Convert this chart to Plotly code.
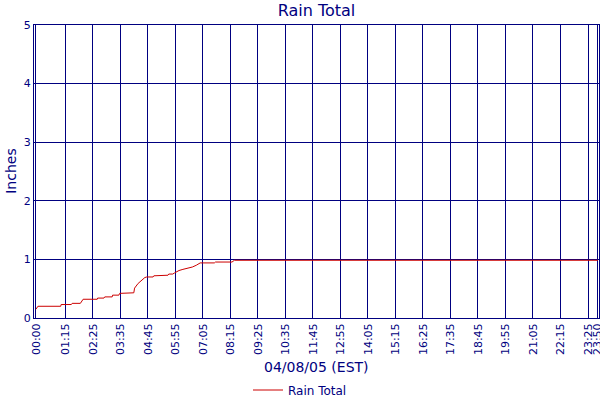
import plotly.graph_objects as go

# 雨量累计 (inches), 2005-04-08
day = '2005-04-08'
times = ['00:00', '00:05', '01:03', '01:04', '01:30', '01:32', '01:53', '01:58', '02:00',
         '02:36', '02:37', '02:53', '02:55', '03:14', '03:15', '03:31', '03:33', '04:09',
         '04:11', '04:20', '04:28', '04:37', '04:42', '04:58', '05:00', '05:23', '05:25',
         '05:36', '05:38', '05:48', '05:53', '06:04', '06:14', '06:27', '06:38', '06:48',
         '06:58', '07:34', '07:37', '08:19', '08:25', '23:50']
rain = [0.15, 0.20, 0.20, 0.23, 0.23, 0.25, 0.25, 0.29, 0.32,
        0.32, 0.34, 0.34, 0.36, 0.36, 0.39, 0.39, 0.42, 0.43,
        0.51, 0.59, 0.64, 0.69, 0.70, 0.70, 0.72, 0.72, 0.73,
        0.73, 0.75, 0.75, 0.77, 0.81, 0.83, 0.85, 0.87, 0.90,
        0.94, 0.94, 0.955, 0.955, 0.985, 0.985]

tick_times = ['00:00', '01:15', '02:25', '03:35', '04:45', '05:55', '07:05', '08:15',
              '09:25', '10:35', '11:45', '12:55', '14:05', '15:15', '16:25', '17:35',
              '18:45', '19:55', '21:05', '22:15', '23:25', '23:50']

navy = '#000080'
font = 'DejaVu Sans, Verdana, sans-serif'

fig = go.Figure()
fig.add_trace(go.Scatter(x=[f'{day} {t}' for t in times], y=rain, mode='lines',
                         name='Rain Total', line=dict(color='#CC0000', width=1)))

fig.update_xaxes(type='date', automargin=False, ticklabeloverflow='allow',
                 range=['2005-04-07 23:55', f'{day} 23:53'],
                 tickvals=[f'{day} {t}' for t in tick_times], ticktext=tick_times,
                 tickangle=-90, tickfont=dict(family=font, size=11, color=navy),
                 showgrid=True, gridcolor=navy, gridwidth=1,
                 showline=True, linecolor=navy, linewidth=1, mirror=True,
                 ticks='', zeroline=False)
fig.update_yaxes(range=[0, 5], dtick=1, automargin=False,
                 tickfont=dict(family=font, size=11, color=navy),
                 showgrid=True, gridcolor=navy, gridwidth=1,
                 showline=True, linecolor=navy, linewidth=1, mirror=True,
                 ticks='', zeroline=False)

fig.update_layout(
    width=600, height=400,
    margin=dict(l=34, r=1, t=25, b=82, autoexpand=False),
    paper_bgcolor='white', plot_bgcolor='white',
    title=dict(text='Rain Total', x=0.5275, xanchor='center', y=0.975, yanchor='middle',
               font=dict(family=font, size=16, color=navy)),
    showlegend=True,
    legend=dict(orientation='h', x=0.5, xref='container', xanchor='center',
                y=0.025, yref='container', yanchor='middle',
                font=dict(family=font, size=12, color=navy), bgcolor='rgba(0,0,0,0)'),
    annotations=[
        dict(text='04/08/05 (EST)', xref='paper', yref='paper', x=0.5, y=-0.167,
             xanchor='center', yanchor='middle', showarrow=False,
             font=dict(family=font, size=14, color=navy)),
        dict(text='Inches', xref='paper', yref='paper', x=-0.042, y=0.5, textangle=-90,
             xanchor='center', yanchor='middle', showarrow=False,
             font=dict(family=font, size=14, color=navy)),
    ],
)

# 去掉页面默认 8px 边距, 关掉工具栏
fig.write_html('out.html', config={'displayModeBar': False},
               post_script="document.body.style.margin='0';")
